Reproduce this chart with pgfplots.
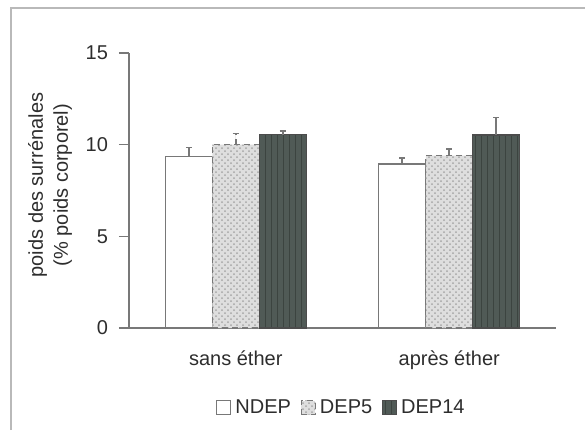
\documentclass[border=0pt]{standalone}
\usepackage{fontspec}
\setmainfont{Liberation Sans}
\usepackage{pgfplots}
\pgfplotsset{compat=1.18}
\usetikzlibrary{patterns}
\definecolor{axgray}{RGB}{120,120,120}
\definecolor{dark14}{RGB}{80,90,86}
\definecolor{light5}{RGB}{222,222,222}
\definecolor{txt}{RGB}{45,45,45}
\begin{document}
\fontsize{10}{12.5}\selectfont
\begin{tikzpicture}
\useasboundingbox (0,0) rectangle (292.5pt,215pt);
\draw[gray!55, line width=0.9pt] (5.5pt,0pt) -- (5.5pt,211pt) -- (292.5pt,211pt);
\begin{axis}[
  at={(64.5pt,51pt)}, anchor=south west,
  scale only axis, width=213.5pt, height=137.5pt,
  ybar=0pt, bar width=0.22,
  xmin=-0.5, xmax=1.5, ymin=0, ymax=15,
  axis x line*=bottom, axis y line*=left,
  axis line style={axgray, line width=0.6pt},
  x axis line style={-}, y axis line style={-},
  ytick={0,5,10,15},
  xtick={0,1}, xticklabels={sans éther, après éther},
  major x tick style={draw=none},
  extra x ticks={-0.5,0.5,1.5}, extra x tick labels={},
  extra x tick style={major tick length=4pt, tick style={axgray, line width=0.6pt, draw=axgray}},
  tick align=outside, major tick length=5pt,
  ytick style={axgray, line width=0.6pt},
  xtick pos=bottom, ytick pos=left,
  yticklabel style={xshift=-2pt, text=txt},
  xticklabel style={yshift=-3pt, text=txt},
  /pgf/number format/assume math mode=true,
  ylabel={poids des surrénales\\(\% poids corporel)},
  ylabel style={at={(axis description cs:-0.185,0.52)}, anchor=center, align=center, text=txt},
  legend style={at={(0.5,-0.29)}, anchor=center, draw=none, legend columns=-1, font=\fontsize{10}{12}\selectfont, text=txt,
    /tikz/every even column/.append style={column sep=3pt}},
  legend image code/.code={\draw[#1, line width=0.5pt] (0pt,-3.5pt) rectangle (7pt,3.5pt);},
  legend cell align=left,
  error bars/y dir=plus, error bars/y explicit,
  error bars/error bar style={axgray, line width=0.8pt},
  error bars/error mark options={rotate=90, mark size=1.5pt, axgray, line width=0.8pt},
]
\addplot[draw=axgray, fill=white, line width=0.7pt] coordinates {(0,9.35) +- (0,0.5) (1,8.95) +- (0,0.33)};
\addplot[draw=axgray, densely dashed, line width=0.6pt, fill=light5, postaction={pattern=crosshatch dots, pattern color=gray!70}] coordinates {(0,10.0) +- (0,0.6) (1,9.4) +- (0,0.35)};
\addplot[draw=black!70, fill=dark14, line width=0.6pt, postaction={pattern=vertical lines, pattern color=dark14!75!black}] coordinates {(0,10.55) +- (0,0.2) (1,10.53) +- (0,0.95)};
\legend{NDEP, DEP5, DEP14}
\end{axis}
\end{tikzpicture}
\end{document}
